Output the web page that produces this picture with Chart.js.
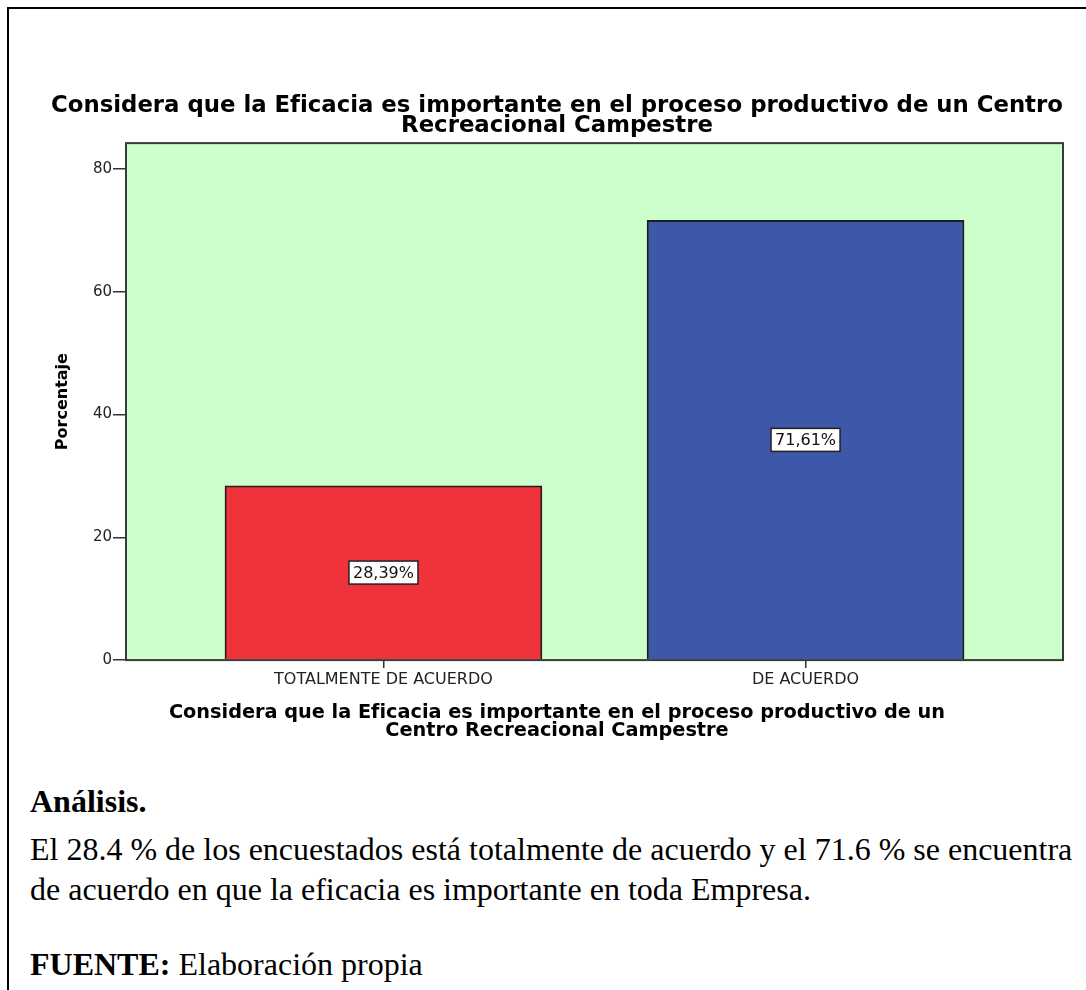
<!DOCTYPE html>
<html lang="es">
<head>
<meta charset="utf-8">
<title>Eficacia</title>
<script src="https://cdn.jsdelivr.net/npm/chart.js@4.4.1/dist/chart.umd.min.js"></script>
<style>
body { margin: 0; background: #fff; width: 1086px; height: 990px; overflow: hidden; position: relative; }
#marco { position: absolute; left: 7px; top: 7px; width: 1100px; height: 1000px; border-left: 2px solid #000; border-top: 2px solid #000; }
#grafico { position: absolute; left: 51px; top: 90px; }
.texto { position: absolute; left: 30px; font-family: "Liberation Serif", "Times New Roman", serif; font-size: 32px; line-height: 32px; color: #000; white-space: nowrap; }
</style>
</head>
<body>
<div id="marco"></div>
<canvas id="grafico" width="1033" height="656"></canvas>
<div class="texto" style="top:785px"><b>Análisis.</b></div>
<div class="texto" style="top:833px">El 28.4 % de los encuestados está totalmente de acuerdo y el 71.6 % se encuentra</div>
<div class="texto" style="top:873px">de acuerdo en que la eficacia es importante en toda Empresa.</div>
<div class="texto" style="top:948px"><b>FUENTE:</b> Elaboración propia</div>

<script>
// datos del grafico
const categorias = ['TOTALMENTE DE ACUERDO', 'DE ACUERDO'];
const porcentajes = [28.39, 71.61];
const etiquetas = ['28,39%', '71,61%'];
const ticksY = [0, 20, 40, 60, 80];
const titulo = ['Considera que la Eficacia es importante en el proceso productivo de un Centro', 'Recreacional Campestre'];
const tituloX = ['Considera que la Eficacia es importante en el proceso productivo de un', 'Centro Recreacional Campestre'];

const coloresBarras = ['rgb(240,51,59)', 'rgb(61,88,168)'];
const fuente = '"DejaVu Sans", Verdana, sans-serif';

const fondo = {
    id: 'fondo',
    beforeDraw(chart) {
        const { ctx, chartArea: a } = chart;
        ctx.save();
        ctx.fillStyle = 'rgb(204,255,204)';
        ctx.fillRect(a.left, a.top, a.right - a.left, a.bottom - a.top);
        ctx.restore();
    },
    afterDatasetsDraw(chart) {
        const { ctx, chartArea: a } = chart;
        ctx.save();
        ctx.strokeStyle = '#3a3a3a';
        ctx.lineWidth = 2;
        ctx.strokeRect(a.left, a.top, a.right - a.left, a.bottom - a.top);

        // cajas con el porcentaje
        ctx.font = '16px ' + fuente;
        ctx.textAlign = 'center';
        ctx.textBaseline = 'middle';
        chart.getDatasetMeta(0).data.forEach((bar, i) => {
            const txt = etiquetas[i];
            const w = ctx.measureText(txt).width + 8;
            const h = 23;
            const cx = bar.x;
            const cy = (bar.y + bar.base) / 2;
            ctx.fillStyle = '#fff';
            ctx.fillRect(cx - w / 2, cy - h / 2, w, h);
            ctx.strokeStyle = '#222';
            ctx.lineWidth = 1.5;
            ctx.strokeRect(cx - w / 2, cy - h / 2, w, h);
            ctx.fillStyle = '#111';
            ctx.fillText(txt, cx, cy + 1);
        });
        ctx.restore();
    }
};

const ctx = document.getElementById('grafico').getContext('2d');

new Chart(ctx, {
    type: 'bar',
    data: {
        datasets: [{
            data: porcentajes.map((v, i) => ({ x: i, y: v })),
            backgroundColor: coloresBarras,
            borderColor: '#1e1e1e',
            borderWidth: 1.8,
            barThickness: 317
        }]
    },
    options: {
        responsive: false,
        devicePixelRatio: 1,
        animation: false,
        events: [],
        layout: { padding: { left: 0, right: 21, top: 0, bottom: 0 } },
        plugins: {
            legend: { display: false },
            tooltip: { enabled: false },
            title: {
                display: true,
                text: titulo,
                color: '#000',
                font: { family: fuente, size: 22.8, weight: 'bold', lineHeight: 0.88 },
                padding: { top: 6, bottom: 7 }
            },
            subtitle: {
                display: true,
                position: 'bottom',
                text: tituloX,
                color: '#000',
                font: { family: fuente, size: 19.3, weight: 'bold', lineHeight: 0.93 },
                padding: { top: 6, bottom: 6 }
            }
        },
        scales: {
            x: {
                type: 'linear',
                offset: false,
                min: -0.61,
                max: 1.61,
                afterBuildTicks: s => { s.ticks = categorias.map((c, i) => ({ value: i })); },
                afterFit: s => { s.height = 38; },
                border: { display: false },
                grid: { offset: false, drawOnChartArea: false, drawTicks: true, tickLength: 8, color: '#333', lineWidth: 1.5 },
                ticks: {
                    autoSkip: false,
                    maxRotation: 0,
                    padding: 2,
                    color: '#222',
                    font: { family: fuente, size: 16 },
                    callback: v => categorias[v]
                }
            },
            y: {
                min: 0,
                max: 84.2,
                afterBuildTicks: s => { s.ticks = ticksY.map(v => ({ value: v })); },
                afterFit: s => { s.width = 75; },
                border: { display: false },
                grid: { drawOnChartArea: false, drawTicks: true, tickLength: 13, color: '#333', lineWidth: 1.5 },
                ticks: {
                    padding: 1,
                    color: '#222',
                    font: { family: fuente, size: 15 }
                },
                title: {
                    display: true,
                    text: 'Porcentaje',
                    color: '#000',
                    font: { family: fuente, size: 16, weight: 'bold' },
                    padding: { top: 2, bottom: 0 }
                }
            }
        }
    },
    plugins: [fondo]
});
</script>
</body>
</html>
